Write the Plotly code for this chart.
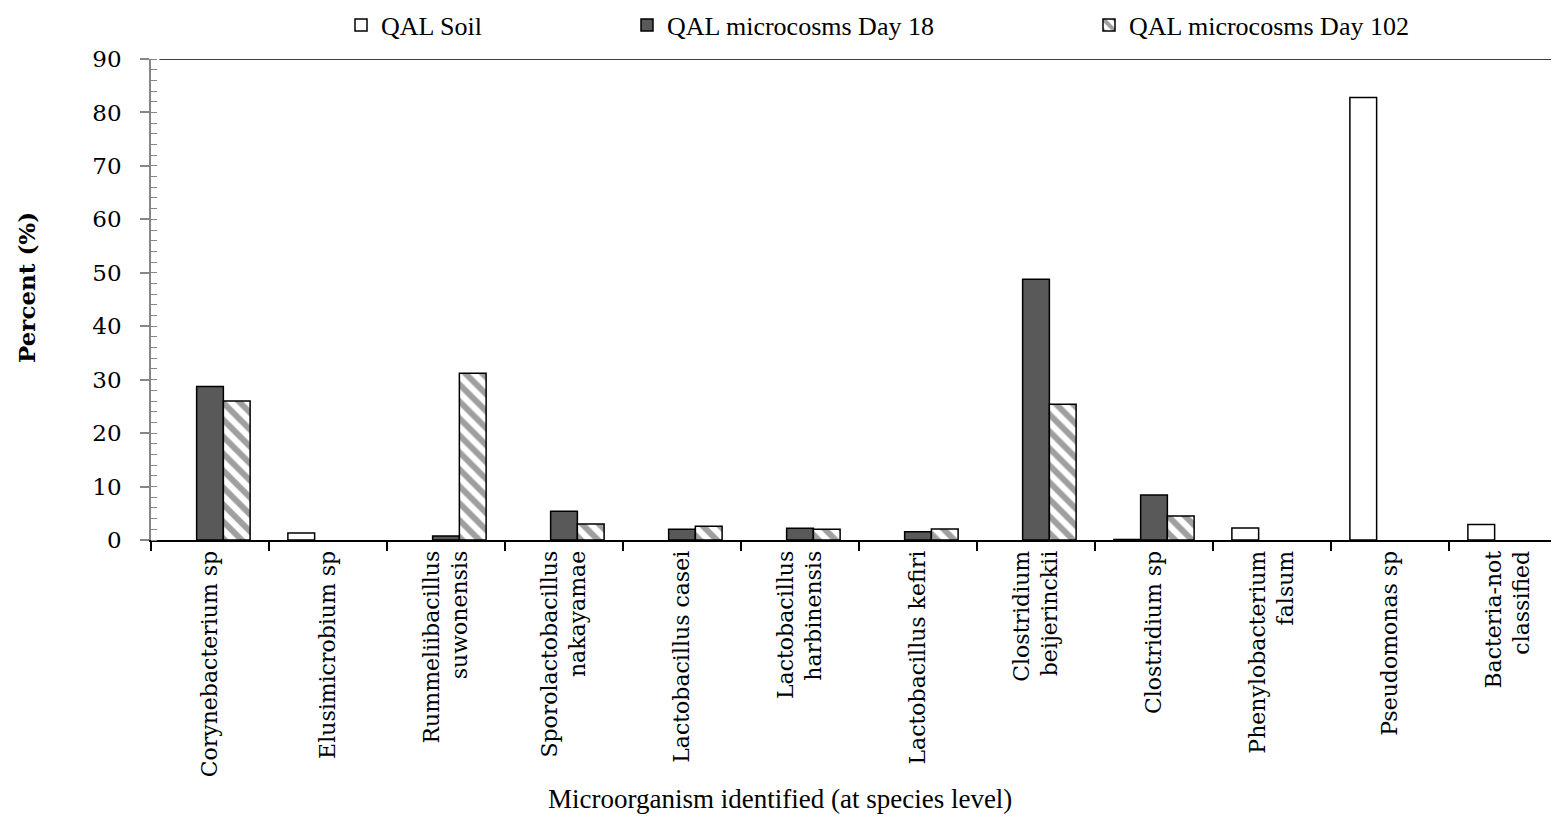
import plotly.graph_objects as go

categories = [
    "Corynebacterium sp",
    "Elusimicrobium sp",
    "Rummeliibacillus<br>suwonensis",
    "Sporolactobacillus<br>nakayamae",
    "Lactobacillus casei",
    "Lactobacillus<br>harbinensis",
    "Lactobacillus kefiri",
    "Clostridium<br>beijerinckii",
    "Clostridium sp",
    "Phenylobacterium<br>falsum",
    "Pseudomonas sp",
    "Bacteria-not<br>classified",
]
soil = [None, 1.3, None, None, None, None, None, None, 0.1, 2.25, 82.8, 2.9]
day18 = [28.7, None, 0.75, 5.4, 2.0, 2.2, 1.55, 48.8, 8.4, None, None, None]
day102 = [26.0, None, 31.2, 3.0, 2.55, 2.0, 2.05, 25.4, 4.5, None, None, None]

series_names = ["QAL Soil", "QAL microcosms Day 18", "QAL microcosms Day 102"]
x_title = "Microorganism identified (at species level)"
y_title = "Percent (%)"

# page has an 8px body margin around the figure
OFF = 8
W, H = 1543, 808
L, T = 151 - OFF, 59 - OFF
B = H - (540 - OFF)
cat_px = 118.0
plot_w = W - L
x_max = -0.5 + plot_w / cat_px

serif = "DejaVu Serif"
legend_font = dict(family="Liberation Serif", size=26, color="black")

fig = go.Figure()
fig.add_trace(go.Bar(
    x=categories, y=soil, name=series_names[0], legend="legend",
    marker=dict(color="white", line=dict(color="black", width=1.5)),
))
fig.add_trace(go.Bar(
    x=categories, y=day18, name=series_names[1], legend="legend2",
    marker=dict(color="#595959", line=dict(color="black", width=1.5)),
))
fig.add_trace(go.Bar(
    x=categories, y=day102, name=series_names[2], legend="legend3",
    marker=dict(color="white", line=dict(color="black", width=1.5),
                pattern=dict(shape="\\", fgcolor="#3f3f3f", bgcolor="white",
                             size=12, solidity=0.5)),
))

def leg(page_x):
    return dict(x=(page_x - OFF) / W, xref="container", xanchor="left",
                y=1 - (25 - OFF) / H, yref="container", yanchor="middle",
                orientation="h", font=legend_font, bgcolor="rgba(0,0,0,0)",
                borderwidth=0, itemclick=False)

fig.update_layout(
    width=W, height=H,
    margin=dict(l=L, r=0, t=T, b=B, autoexpand=False),
    plot_bgcolor="white", paper_bgcolor="white",
    barmode="group", bargap=0.32, bargroupgap=0,
    showlegend=True,
    legend=leg(341), legend2=leg(627), legend3=leg(1089),
    xaxis=dict(
        type="category", range=[-0.5, x_max], categoryorder="array",
        categoryarray=categories,
        showline=True, linecolor="black", linewidth=2,
        tickson="boundaries", ticks="outside", ticklen=9, tickcolor="black",
        tickwidth=1.5, tickangle=-90,
        tickfont=dict(family=serif, size=22, color="black"),
        showgrid=False, zeroline=False,
        automargin=False,
    ),
    yaxis=dict(
        range=[0, 90], dtick=10, tick0=0,
        showline=True, linecolor="#868686", linewidth=1.5,
        ticks="outside", ticklen=9, tickcolor="#868686", tickwidth=1.5,
        minor=dict(dtick=2, ticks="inside", ticklen=6, tickcolor="#868686",
                   tickwidth=1.2),
        tickfont=dict(family=serif, size=23, color="black"),
        ticklabelstandoff=14,
        showgrid=False, zeroline=False,
        automargin=False,
    ),
    shapes=[dict(type="line", xref="paper", yref="y", x0=0.006, x1=1,
                 y0=90, y1=90, line=dict(color="black", width=1.5))],
    annotations=[
        dict(text="<b>" + y_title + "</b>", textangle=-90,
             xref="paper", x=(26 - OFF - L) / plot_w, xanchor="center",
             yref="paper", y=(540 - 288) / (540 - 59), yanchor="middle",
             showarrow=False,
             font=dict(family=serif, size=23, color="black")),
        dict(text=x_title,
             xref="paper", x=(780 - OFF - L) / plot_w, xanchor="center",
             yref="paper", y=-(799 - 540) / (540 - 59), yanchor="middle",
             showarrow=False,
             font=dict(family="Liberation Serif", size=27, color="black")),
    ],
)

fig.write_html("out.html")
